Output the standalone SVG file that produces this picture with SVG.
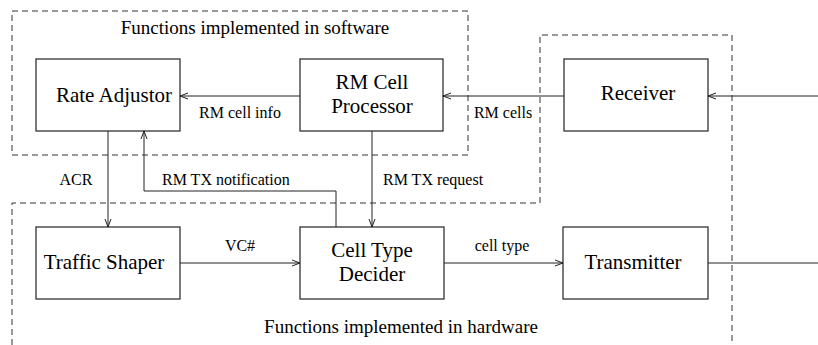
<svg xmlns="http://www.w3.org/2000/svg" width="818" height="345" viewBox="0 0 818 345">
<defs>
<style>
.box{fill:#fff;stroke:#222;stroke-width:1.2}
.dash{fill:none;stroke:#333;stroke-width:1;stroke-dasharray:6,4}
.ln{fill:none;stroke:#222;stroke-width:1}
.nt{font-family:"Liberation Serif","Times New Roman",serif;font-size:21px;fill:#000;text-anchor:middle}
.lb{font-family:"Liberation Serif","Times New Roman",serif;font-size:16px;fill:#000}
.tt{font-family:"Liberation Serif","Times New Roman",serif;font-size:19px;fill:#000;text-anchor:middle}
</style>
<marker id="ah" markerWidth="10" markerHeight="8" refX="9" refY="4" orient="auto" markerUnits="userSpaceOnUse">
<path d="M1,1 L9,4 L1,7" fill="none" stroke="#222" stroke-width="1"/>
</marker>
</defs>
<rect width="818" height="345" fill="#fff"/>
<g id="regions">
<rect class="dash" x="12" y="11" width="456" height="144"/>
<polyline class="dash" points="12,345 12,203 540,203 540,35 732,35 732,345"/>
<text class="tt" x="255" y="34">Functions implemented in software</text>
<text class="tt" x="401" y="333">Functions implemented in hardware</text>
</g>
<g id="connectors">
<line class="ln" x1="300" y1="96" x2="180" y2="96" marker-end="url(#ah)"/>
<line class="ln" x1="564" y1="96" x2="443" y2="96" marker-end="url(#ah)"/>
<line class="ln" x1="818" y1="96" x2="708" y2="96" marker-end="url(#ah)"/>
<line class="ln" x1="108" y1="131" x2="108" y2="227" marker-end="url(#ah)"/>
<polyline class="ln" points="336,227 336,191 144,191 144,131" marker-end="url(#ah)"/>
<line class="ln" x1="372" y1="131" x2="372" y2="227" marker-end="url(#ah)"/>
<line class="ln" x1="180" y1="263" x2="300" y2="263" marker-end="url(#ah)"/>
<line class="ln" x1="444" y1="263" x2="563" y2="263" marker-end="url(#ah)"/>
<line class="ln" x1="708" y1="263" x2="818" y2="263"/>
<text class="lb" x="240" y="118" text-anchor="middle">RM cell info</text>
<text class="lb" x="503" y="118" text-anchor="middle">RM cells</text>
<text class="lb" x="76" y="185" text-anchor="middle">ACR</text>
<text class="lb" x="162" y="185">RM TX notification</text>
<text class="lb" x="383" y="185">RM TX request</text>
<text class="lb" x="240" y="251" text-anchor="middle">VC#</text>
<text class="lb" x="502" y="251" text-anchor="middle">cell type</text>
</g>
<g id="rate-adjustor">
<rect class="box" x="36" y="59" width="144" height="72"/>
<text class="nt" x="114" y="102">Rate Adjustor</text>
</g>
<g id="rm-cell-processor">
<rect class="box" x="300" y="59" width="143" height="72"/>
<text class="nt" x="372" y="89">RM Cell</text>
<text class="nt" x="372" y="113">Processor</text>
</g>
<g id="receiver">
<rect class="box" x="564" y="59" width="144" height="72"/>
<text class="nt" x="638" y="100">Receiver</text>
</g>
<g id="traffic-shaper">
<rect class="box" x="36" y="227" width="144" height="72"/>
<text class="nt" x="104" y="269">Traffic Shaper</text>
</g>
<g id="cell-type-decider">
<rect class="box" x="300" y="227" width="144" height="72"/>
<text class="nt" x="372" y="257">Cell Type</text>
<text class="nt" x="372" y="281">Decider</text>
</g>
<g id="transmitter">
<rect class="box" x="563" y="227" width="145" height="72"/>
<text class="nt" x="633" y="269">Transmitter</text>
</g>
</svg>
